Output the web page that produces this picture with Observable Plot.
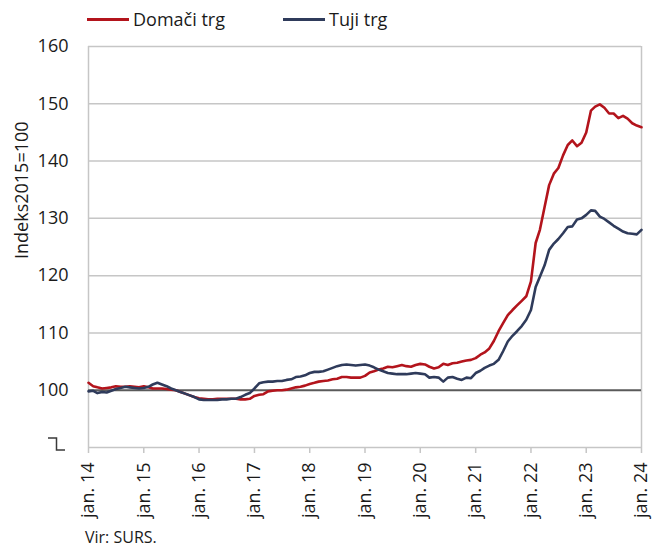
<!DOCTYPE html>
<html>
<head>
<meta charset="utf-8">
<script src="https://cdn.jsdelivr.net/npm/d3@7"></script>
<script src="https://cdn.jsdelivr.net/npm/@observablehq/plot@0.6"></script>
<style>
  body { margin: 0; background: #fff; font-family: "Open Sans", sans-serif; color: #1a1a1a; }
  #wrap { position: relative; width: 653px; height: 548px; overflow: hidden; }
  #legend { position: absolute; left: 0; top: 0; width: 653px; height: 34px; font-size: 18px; }
  .item { position: absolute; top: 6px; height: 26px; display: flex; align-items: center; white-space: nowrap; }
  .sw { width: 42px; height: 3px; margin-right: 4px; }
  #chart { position: absolute; left: 0; top: 34px; }
  #caption { position: absolute; left: 85px; top: 526px; font-size: 16px; }
</style>
</head>
<body>
<div id="wrap">
  <div id="legend"></div>
  <div id="chart"></div>
  <div id="caption">Vir: SURS.</div>
</div>
<script>
// ---- data ----
const seriesNames = ["Domači trg", "Tuji trg"];
const seriesColors = ["#b3141c", "#2f3b5b"];
const startYear = 2014;              // first month: jan. 2014, monthly values
const domaci = [
  101.3,100.7,100.5,100.3,100.4,100.5,100.7,100.6,100.6,100.7,100.6,100.5,
  100.7,100.5,100.3,100.3,100.3,100.2,100.1,100.0,99.7,99.4,99.1,98.8,
  98.6,98.5,98.4,98.4,98.5,98.5,98.5,98.5,98.5,98.4,98.4,98.5,
  99.0,99.2,99.3,99.8,99.9,100.0,100.0,100.1,100.3,100.5,100.6,100.8,
  101.1,101.3,101.5,101.6,101.7,101.9,102.0,102.3,102.3,102.2,102.2,102.2,
  102.5,103.1,103.3,103.6,103.8,104.1,104.0,104.2,104.4,104.2,104.1,104.4,
  104.6,104.5,104.1,103.8,104.0,104.6,104.4,104.7,104.8,105.0,105.2,105.3,
  105.6,106.2,106.6,107.3,108.6,110.3,111.7,113.1,114.0,114.8,115.6,116.4,
  119.0,125.7,128.0,132.0,135.8,137.8,138.8,141.0,142.8,143.6,142.6,143.2,
  145.0,148.8,149.5,149.9,149.3,148.3,148.3,147.5,147.9,147.4,146.6,146.2,
  145.9
];
const tuji = [
  99.8,99.9,99.5,99.7,99.6,99.9,100.2,100.4,100.6,100.5,100.4,100.3,
  100.4,100.6,101.0,101.3,101.0,100.7,100.3,100.0,99.7,99.4,99.1,98.8,
  98.4,98.3,98.3,98.3,98.3,98.4,98.4,98.5,98.5,98.8,99.2,99.5,
  100.3,101.2,101.4,101.5,101.5,101.6,101.6,101.8,101.9,102.3,102.4,102.6,
  103.0,103.2,103.2,103.3,103.6,103.9,104.2,104.4,104.5,104.4,104.3,104.4,
  104.5,104.3,104.0,103.6,103.3,103.0,102.9,102.8,102.8,102.8,102.9,103.0,
  102.9,102.8,102.2,102.3,102.2,101.5,102.2,102.3,102.0,101.8,102.2,102.1,
  103.0,103.4,103.9,104.3,104.6,105.3,106.8,108.5,109.5,110.3,111.2,112.3,
  114.0,118.0,119.8,121.8,124.5,125.6,126.4,127.4,128.5,128.6,129.8,130.0,
  130.6,131.4,131.3,130.3,129.9,129.3,128.7,128.2,127.7,127.4,127.3,127.2,
  128.0
];
const yTicks = [100, 110, 120, 130, 140, 150, 160];
const gridValues = [110, 120, 130, 140, 150, 160];
const yDomain = [90, 160];
const xTickYears = [2014, 2015, 2016, 2017, 2018, 2019, 2020, 2021, 2022, 2023, 2024];
const baseline = 100;
const yLabel = "Indeks2015=100";

// ---- build table ----
const month = i => new Date(Date.UTC(startYear, i, 1));
const rows = [
  ...domaci.map((v, i) => ({date: month(i), value: v, series: seriesNames[0]})),
  ...tuji.map((v, i) => ({date: month(i), value: v, series: seriesNames[1]}))
];
const xTicks = xTickYears.map(y => new Date(Date.UTC(y, 0, 1)));
const xDomain = [xTicks[0], xTicks[xTicks.length - 1]];

// ---- legend ----
const legend = document.getElementById("legend");
const legendLeft = [87, 283];
seriesNames.forEach((n, i) => {
  const it = document.createElement("div");
  it.className = "item";
  it.style.left = legendLeft[i] + "px";
  it.innerHTML = `<span class="sw" style="background:${seriesColors[i]}"></span><span>${n}</span>`;
  legend.appendChild(it);
});

// ---- plot ----
const gridColor = "#c6c6c6";
const plot = Plot.plot({
  width: 653,
  height: 488,
  marginTop: 12,
  marginBottom: 75,
  marginLeft: 88,
  marginRight: 12,
  style: {fontFamily: "'Open Sans', sans-serif", fontSize: "18px", color: "#1a1a1a", background: "white"},
  x: {type: "utc", domain: xDomain},
  y: {domain: yDomain},
  color: {domain: seriesNames, range: seriesColors},
  marks: [
    Plot.ruleY(gridValues, {stroke: gridColor, strokeWidth: 1.5}),
    Plot.ruleX([xDomain[1]], {stroke: gridColor, strokeWidth: 1.5}),
    Plot.ruleX([xDomain[0]], {stroke: gridColor, strokeWidth: 1.5}),
    Plot.ruleY([yDomain[0]], {stroke: gridColor, strokeWidth: 1.5}),
    Plot.axisY(yTicks, {tickSize: 0, tickPadding: 20, label: null, fontSize: 18, fill: "#1a1a1a"}),
    Plot.axisX(xTicks, {
      tickSize: 6, tickPadding: 9, tickRotate: -90, label: null, stroke: gridColor, strokeWidth: 1.5,
      fill: "#1a1a1a", fontSize: 18,
      tickFormat: d => "jan. " + String(d.getUTCFullYear() % 100).padStart(2, "0")
    }),
    Plot.ruleY([baseline], {stroke: "#5a5a5a", strokeWidth: 2}),
    Plot.line(rows, {x: "date", y: "value", z: "series", stroke: "series", strokeWidth: 2.6}),
    Plot.text([yLabel], {frameAnchor: "left", rotate: -90, dx: -66, dy: 12, fontSize: 18, fill: "#1a1a1a"})
  ]
});
document.getElementById("chart").appendChild(plot);

// axis break symbol at the bottom of the y axis (where 90 would be)
const y90 = plot.scale("y").apply(yDomain[0]);
d3.select(plot).append("path")
  .attr("d", `M48,${y90 - 9}H56.5V${y90 + 3}H65`)
  .attr("fill", "none").attr("stroke", "#3a3a3a").attr("stroke-width", 1.5);
</script>
</body>
</html>
